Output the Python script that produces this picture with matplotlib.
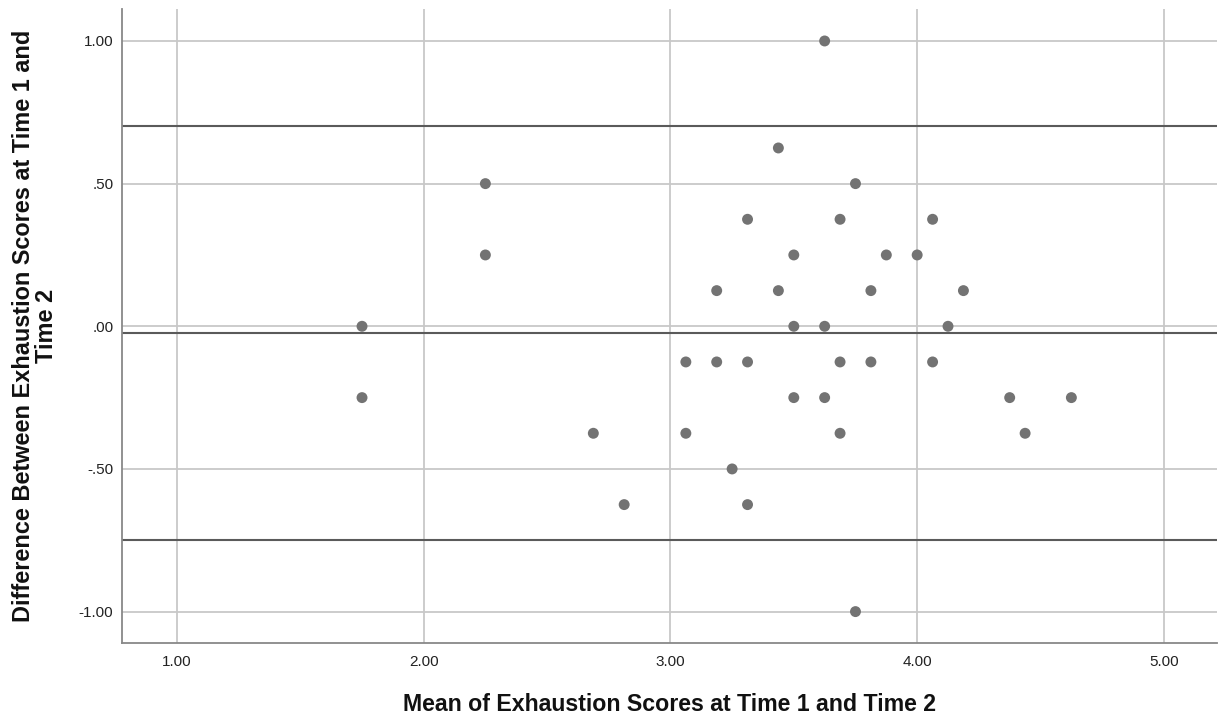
import matplotlib
matplotlib.use("Agg")
import matplotlib.pyplot as plt

plt.rcParams['font.family'] = ['Liberation Sans', 'DejaVu Sans']

# Mean of Exhaustion Scores (x) and difference Time1 - Time2 (y)
mean_scores = [1.75, 1.75, 2.25, 2.25, 3.625, 3.4375, 3.75, 3.3125, 3.6875, 4.0625,
               3.5, 3.875, 4.0, 3.1875, 3.4375, 3.8125, 4.1875, 3.5, 3.625, 4.125,
               3.0625, 3.1875, 3.3125, 3.6875, 3.8125, 4.0625, 3.5, 3.625, 4.375, 4.625,
               2.6875, 3.0625, 3.6875, 4.4375, 3.25, 2.8125, 3.3125, 3.75]
differences = [0.0, -0.25, 0.5, 0.25, 1.0, 0.625, 0.5, 0.375, 0.375, 0.375,
               0.25, 0.25, 0.25, 0.125, 0.125, 0.125, 0.125, 0.0, 0.0, 0.0,
               -0.125, -0.125, -0.125, -0.125, -0.125, -0.125, -0.25, -0.25, -0.25, -0.25,
               -0.375, -0.375, -0.375, -0.375, -0.5, -0.625, -0.625, -1.0]

# Bland-Altman reference lines: upper limit, mean difference, lower limit
ref_lines = [0.702, -0.023, -0.748]

x_ticks = [1.0, 2.0, 3.0, 4.0, 5.0]
x_tick_labels = ['1.00', '2.00', '3.00', '4.00', '5.00']
y_ticks = [-1.0, -0.5, 0.0, 0.5, 1.0]
y_tick_labels = ['-1.00', '-.50', '.00', '.50', '1.00']

fig = plt.figure(figsize=(12.21, 7.17), dpi=100)
ax = fig.add_axes([121.7/1221, 1 - 642.7/717, (1216.7 - 121.7)/1221, (642.7 - 9.3)/717])

ax.set_xlim(0.776, 5.214)
ax.set_ylim(-1.109, 1.111)

ax.set_xticks(x_ticks)
ax.set_xticklabels(x_tick_labels)
ax.set_yticks(y_ticks)
ax.set_yticklabels(y_tick_labels)

ax.grid(True, color='#c8c8c8', linewidth=1.3, zorder=0)
ax.set_axisbelow(True)

for v in ref_lines:
    ax.axhline(v, color='#5a5a5a', linewidth=1.5, zorder=2)

ax.scatter(mean_scores, differences, s=62, color='#737373', edgecolors='none', zorder=3)

for side in ['top', 'right']:
    ax.spines[side].set_visible(False)
for side in ['left', 'bottom']:
    ax.spines[side].set_color('#888888')
    ax.spines[side].set_linewidth(1.3)

ax.tick_params(axis='both', length=0, labelsize=11, colors='#222222')
ax.tick_params(axis='x', pad=9)
ax.tick_params(axis='y', pad=6)

ax.set_xlabel('Mean of Exhaustion Scores at Time 1 and Time 2', fontsize=16.7,
              fontweight='bold', color='#111111')
ax.xaxis.set_label_coords(0.5, -0.079)
ax.set_ylabel('Difference Between Exhaustion Scores at Time 1 and\nTime 2', fontsize=16.9,
              fontweight='bold', color='#111111', linespacing=1.0)
ax.yaxis.set_label_coords(-0.058, 0.5)

fig.savefig('out.png', dpi=100)
